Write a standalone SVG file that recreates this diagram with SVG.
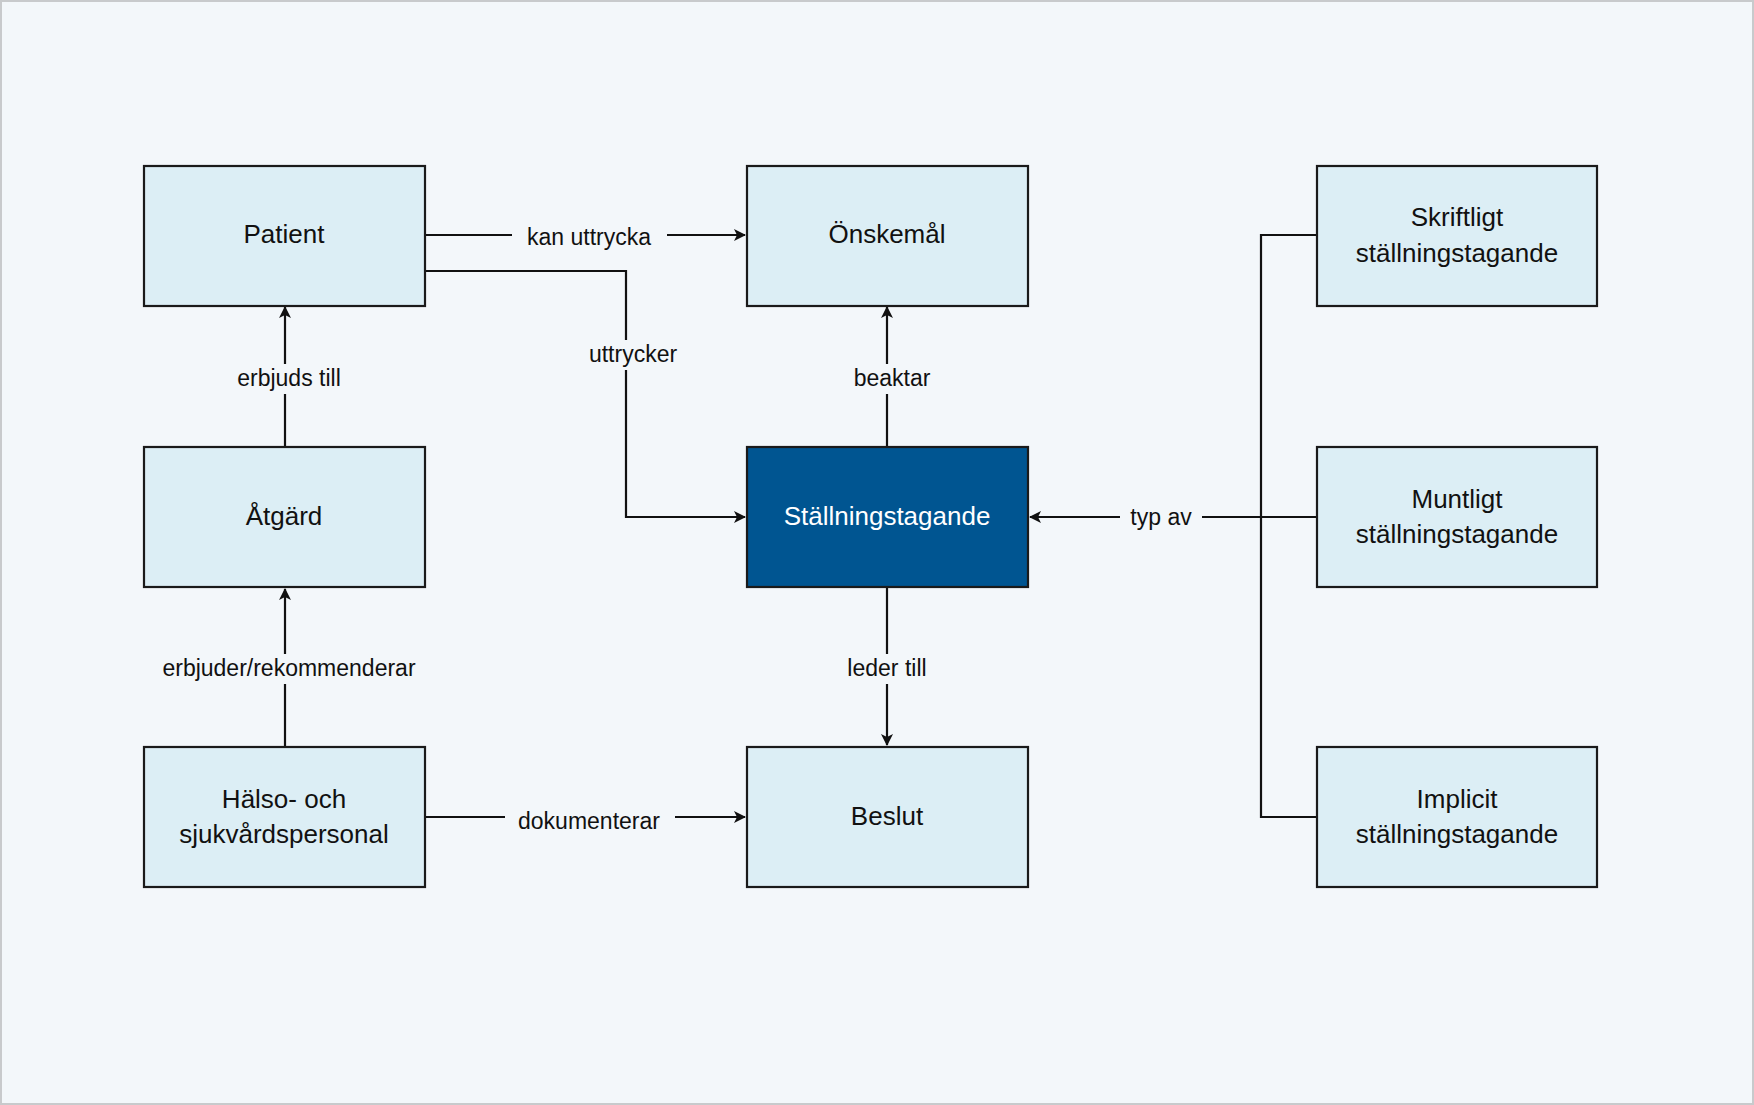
<svg xmlns="http://www.w3.org/2000/svg" width="1754" height="1105" viewBox="0 0 1754 1105">
<style>
.n{fill:#dceef5;stroke:#1a1a1a;stroke-width:2.2}
.d{fill:#005591;stroke:#1a1a1a;stroke-width:2.2}
.t{font-family:"Liberation Sans",Arial,sans-serif;font-size:26px;fill:#111;text-anchor:middle}
.w{fill:#fff}
.l{font-family:"Liberation Sans",Arial,sans-serif;font-size:23px;fill:#111;text-anchor:middle}
.c{fill:none;stroke:#111;stroke-width:2.2}
.bg{fill:#f3f7fa}
</style>
<defs><marker id="a" viewBox="0 0 12 12" refX="11" refY="6" markerWidth="12" markerHeight="12" markerUnits="userSpaceOnUse" orient="auto"><path d="M0,0 L12,6 L0,12 L3,6 Z" fill="#111"/></marker></defs>
<rect x="1" y="1" width="1752" height="1103" fill="#f3f7fa" stroke="#c8cacc" stroke-width="2"/>
<g id="connectors">
<path class="c" d="M425,235 H745" marker-end="url(#a)"/>
<rect class="bg" x="512" y="220" width="155" height="30"/><text class="l" x="589" y="245">kan uttrycka</text>
<path class="c" d="M425,271 H626 V517 H745" marker-end="url(#a)"/>
<rect class="bg" x="580" y="340" width="106" height="30"/><text class="l" x="633" y="362">uttrycker</text>
<path class="c" d="M887,447 V307" marker-end="url(#a)"/>
<rect class="bg" x="845" y="364" width="84" height="30"/><text class="l" x="892" y="386">beaktar</text>
<path class="c" d="M285,447 V307" marker-end="url(#a)"/>
<rect class="bg" x="225" y="364" width="130" height="30"/><text class="l" x="289" y="386">erbjuds till</text>
<path class="c" d="M285,747 V589" marker-end="url(#a)"/>
<rect class="bg" x="145" y="654" width="288" height="30"/><text class="l" x="289" y="676">erbjuder/rekommenderar</text>
<path class="c" d="M887,587 V745" marker-end="url(#a)"/>
<rect class="bg" x="840" y="654" width="94" height="30"/><text class="l" x="887" y="676">leder till</text>
<path class="c" d="M425,817 H745" marker-end="url(#a)"/>
<rect class="bg" x="505" y="805" width="170" height="30"/><text class="l" x="589" y="829">dokumenterar</text>
<path class="c" d="M1317,235 H1261 V817 H1317 M1317,517 H1261"/>
<path class="c" d="M1261,517 H1030" marker-end="url(#a)"/>
<rect class="bg" x="1120" y="502" width="82" height="30"/><text class="l" x="1161" y="525">typ av</text>
</g>
<g id="patient"><rect class="n" x="144" y="166" width="281" height="140"/><text class="t" x="284" y="243">Patient</text></g>
<g id="onskemal"><rect class="n" x="747" y="166" width="281" height="140"/><text class="t" x="887" y="243">Önskemål</text></g>
<g id="skriftligt"><rect class="n" x="1317" y="166" width="280" height="140"/><text class="t" x="1457" y="226">Skriftligt</text><text class="t" x="1457" y="262">ställningstagande</text></g>
<g id="atgard"><rect class="n" x="144" y="447" width="281" height="140"/><text class="t" x="284" y="525">Åtgärd</text></g>
<g id="stallningstagande"><rect class="d" x="747" y="447" width="281" height="140"/><text class="t w" x="887" y="525">Ställningstagande</text></g>
<g id="muntligt"><rect class="n" x="1317" y="447" width="280" height="140"/><text class="t" x="1457" y="508">Muntligt</text><text class="t" x="1457" y="543">ställningstagande</text></g>
<g id="halso"><rect class="n" x="144" y="747" width="281" height="140"/><text class="t" x="284" y="808">Hälso- och</text><text class="t" x="284" y="843">sjukvårdspersonal</text></g>
<g id="beslut"><rect class="n" x="747" y="747" width="281" height="140"/><text class="t" x="887" y="825">Beslut</text></g>
<g id="implicit"><rect class="n" x="1317" y="747" width="280" height="140"/><text class="t" x="1457" y="808">Implicit</text><text class="t" x="1457" y="843">ställningstagande</text></g>
</svg>
